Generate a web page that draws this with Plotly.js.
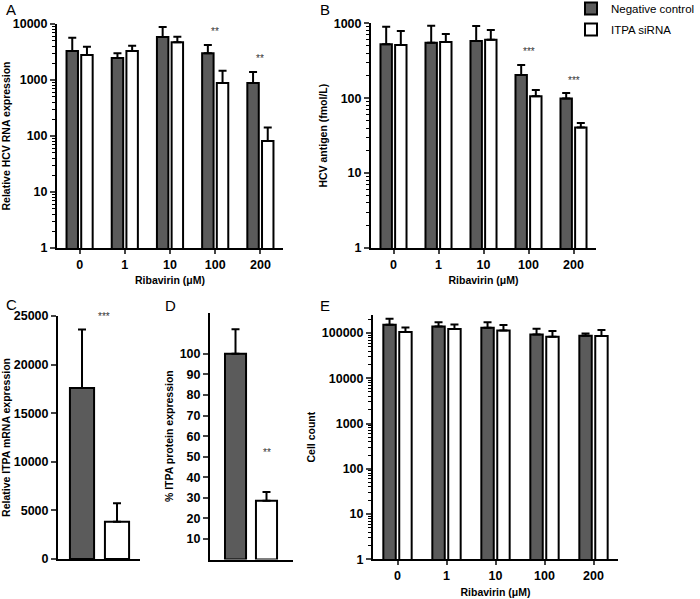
<!DOCTYPE html>
<html>
<head>
<meta charset="utf-8">
<script src="https://cdn.plot.ly/plotly-3.0.1.min.js"></script>
<style>
  html, body { margin: 0; padding: 0; background: #fff; }
  #chart { width: 700px; height: 599px; }
</style>
</head>
<body>
<div id="chart"></div>
<script>
document.addEventListener('DOMContentLoaded', () => {
    // Ribavirin doses (µM)
    const doses = ['0', '1', '10', '100', '200'];
    const seriesNames = ['Negative control', 'ITPA siRNA'];

    // A: relative HCV RNA expression
    const hcvRnaCtrl = [3300, 2470, 5860, 3000, 883];
    const hcvRnaCtrlErr = [2400, 530, 2980, 1220, 510];
    const hcvRnaSi = [2790, 3300, 4710, 883, 81.5];
    const hcvRnaSiErr = [1140, 800, 1230, 583, 60];
    const hcvRnaStars = ['', '', '', '**', '**'];

    // B: HCV antigen (fmol/L)
    const antigenCtrl = [525, 551, 581, 204, 99];
    const antigenCtrlErr = [375, 379, 339, 74, 18];
    const antigenSi = [514, 564, 605, 106, 40.5];
    const antigenSiErr = [276, 156, 210, 23, 6];
    const antigenStars = ['', '', '', '***', '***'];

    // C: relative ITPA mRNA expression
    const itpaMrna = [17600, 3840];
    const itpaMrnaErr = [6000, 1890];
    const itpaMrnaStars = '***';

    // D: % ITPA protein expression
    const itpaProtein = [100, 28.6];
    const itpaProteinErr = [12, 4.3];
    const itpaProteinStars = '**';

    // E: cell count
    const cellsCtrl = [152800, 140000, 131000, 93000, 87000];
    const cellsCtrlErr = [54200, 32000, 41000, 31000, 11000];
    const cellsSi = [105000, 122000, 114000, 83000, 86000];
    const cellsSiErr = [28000, 33000, 36000, 28000, 30000];

    // tick labels
    const logTicks = [1, 10, 100, 1000, 10000, 100000];
    const mrnaTicks = [0, 5000, 10000, 15000, 20000, 25000];
    const proteinTicks = [10, 20, 30, 40, 50, 60, 70, 80, 90, 100];

    const dark = '#5b5b5b';
    const font = 'Liberation Sans, Arial, sans-serif';
    const zeros = n => new Array(n).fill(0);
    const bold = v => '<b>' + v + '</b>';

    function errBar(arr) {
        return { type: 'data', array: arr, arrayminus: zeros(arr.length), symmetric: false,
                 color: '#000', thickness: 2, width: 4 };
    }

    function pair(xa, ya, ctrl, ctrlErr, si, siErr, legend) {
        return [
            { type: 'bar', x: doses, y: ctrl, name: seriesNames[0], xaxis: xa, yaxis: ya,
              marker: { color: dark, line: { color: '#000', width: 2 } },
              error_y: errBar(ctrlErr), showlegend: legend, legendgroup: 'ctrl' },
            { type: 'bar', x: doses, y: si, name: seriesNames[1], xaxis: xa, yaxis: ya,
              marker: { color: '#fff', line: { color: '#000', width: 2 } },
              error_y: errBar(siErr), showlegend: legend, legendgroup: 'si' }
        ];
    }

    const traces = [
        ...pair('x', 'y', hcvRnaCtrl, hcvRnaCtrlErr, hcvRnaSi, hcvRnaSiErr, false),
        ...pair('x2', 'y2', antigenCtrl, antigenCtrlErr, antigenSi, antigenSiErr, true),
        { type: 'bar', x: [0, 1], y: itpaMrna, width: 0.69, xaxis: 'x3', yaxis: 'y3', showlegend: false,
          marker: { color: [dark, '#fff'], line: { color: '#000', width: 2 } }, error_y: errBar(itpaMrnaErr) },
        { type: 'bar', x: [0, 1], y: itpaProtein, width: 0.68, xaxis: 'x4', yaxis: 'y4', showlegend: false,
          marker: { color: [dark, '#fff'], line: { color: '#000', width: 2 } }, error_y: errBar(itpaProteinErr) },
        ...pair('x5', 'y5', cellsCtrl, cellsCtrlErr, cellsSi, cellsSiErr, false)
    ];

    const tickFont = { family: font, size: 12.5, color: '#000' };
    const titleFont = { family: font, size: 10.5, color: '#000' };

    // minor ticks 2..9 within each decade
    const minorLog = [];
    for (let d = 1; d <= 100000; d *= 10) for (let m = 2; m <= 9; m++) minorLog.push(m * d);

    function xCat(domain, anchor, title) {
        return { domain: domain, anchor: anchor, type: 'category', range: [-0.5, 4.5],
                 showline: true, linewidth: 2, linecolor: '#000', ticks: 'outside', ticklen: 4, tickwidth: 2,
                 tickmode: 'array', tickvals: doses, ticktext: doses.map(bold),
                 tickfont: tickFont, showgrid: false, zeroline: false,
                 title: { text: bold(title), font: titleFont, standoff: 6 } };
    }
    function yLog(domain, anchor, range, title, standoff) {
        const vals = logTicks.filter(v => Math.log10(v) <= range[1] + 1e-6);
        return { domain: domain, anchor: anchor, type: 'log', range: range,
                 tickmode: 'array', tickvals: vals, ticktext: vals.map(v => bold(String(v))),
                 showline: true, linewidth: 2, linecolor: '#000',
                 ticks: 'outside', ticklen: 5, tickwidth: 2, tickfont: tickFont, showgrid: false,
                 minor: { ticks: 'outside', ticklen: 3.5, tickwidth: 1, tickcolor: '#000', showgrid: false,
                          tickmode: 'array', tickvals: minorLog.filter(v => Math.log10(v) <= range[1]) },
                 title: { text: bold(title), font: titleFont, standoff: standoff } };
    }
    function yLin(domain, anchor, range, vals, title) {
        return { domain: domain, anchor: anchor, range: range,
                 tickmode: 'array', tickvals: vals, ticktext: vals.map(v => bold(String(v))),
                 showline: true, linewidth: 2, linecolor: '#000', ticks: 'outside', ticklen: 5, tickwidth: 2,
                 tickfont: tickFont, showgrid: false, zeroline: false,
                 title: { text: bold(title), font: titleFont, standoff: 4 } };
    }
    function xPlain(domain, anchor, range) {
        return { domain: domain, anchor: anchor, range: range, showline: true, linewidth: 2,
                 linecolor: '#000', showticklabels: false, ticks: '', showgrid: false, zeroline: false };
    }

    const starFont = { family: font, size: 10, color: '#333' };
    const annotations = [];
    [['A', 4, 9], ['B', 318, 9], ['C', 4, 304], ['D', 163, 305], ['E', 318, 305]].forEach(p => {
        annotations.push({ text: p[0], xref: 'paper', yref: 'paper', x: p[1] / 700, y: 1 - p[2] / 599,
                           xanchor: 'left', yanchor: 'middle', showarrow: false,
                           font: { family: font, size: 15, color: '#000' } });
    });
    function stars(labels, a, b, ea, eb, xr, yr) {
        labels.forEach((s, i) => {
            if (!s) return;
            const top = Math.max(a[i] + ea[i], b[i] + eb[i]);
            annotations.push({ text: s, xref: xr, yref: yr, x: i, y: Math.log10(top),
                               yshift: 13, showarrow: false, font: starFont });
        });
    }
    stars(hcvRnaStars, hcvRnaCtrl, hcvRnaSi, hcvRnaCtrlErr, hcvRnaSiErr, 'x', 'y');
    stars(antigenStars, antigenCtrl, antigenSi, antigenCtrlErr, antigenSiErr, 'x2', 'y2');
    annotations.push({ text: itpaMrnaStars, xref: 'x3', yref: 'y3', x: 0.63, y: 25000, showarrow: false,
                       font: starFont });
    annotations.push({ text: itpaProteinStars, xref: 'x4', yref: 'y4', x: 1, y: 52, showarrow: false,
                       font: starFont });

    const layout = {
        width: 700, height: 599,
        margin: { l: 0, r: 0, t: 0, b: 0, autoexpand: false },
        paper_bgcolor: '#fff', plot_bgcolor: '#fff',
        barmode: 'group', bargap: 0.35, bargroupgap: 0.22,
        showlegend: true,
        legend: { x: 1, y: 1.01, xanchor: 'right', yanchor: 'top', bgcolor: 'rgba(0,0,0,0)',
                  font: { family: font, size: 11.5, color: '#000' }, tracegroupgap: 2 },
        xaxis: xCat([57 / 700, 283 / 700], 'y', 'Ribavirin (μM)'),
        yaxis: yLog([1 - 248 / 599, 1 - 24 / 599], 'x', [0, 4], 'Relative HCV RNA expression', 4),
        xaxis2: xCat([371 / 700, 596 / 700], 'y2', 'Ribavirin (μM)'),
        yaxis2: yLog([1 - 248 / 599, 1 - 23.3 / 599], 'x2', [0, 3], 'HCV antigen (fmol/L)', 4),
        xaxis3: xPlain([58 / 700, 140 / 700], 'y3', [-0.686, 1.657]),
        yaxis3: yLin([1 - 559 / 599, 1 - 316 / 599], 'x3', [0, 25000], mrnaTicks, 'Relative ITPA mRNA expression'),
        xaxis4: xPlain([210 / 700, 293 / 700], 'y4', [-0.823, 1.855]),
        yaxis4: yLin([1 - 559.6 / 599, 1 - 312.7 / 599], 'x4', [0, 120], proteinTicks, '% ITPA protein expression'),
        xaxis5: xCat([373 / 700, 618 / 700], 'y5', 'Ribavirin (μM)'),
        yaxis5: yLog([1 - 559.3 / 599, 1 - 315 / 599], 'x5', [0, Math.log10(250000)], 'Cell count', 4),
        annotations: annotations
    };

    Plotly.newPlot('chart', traces, layout, { staticPlot: true });
});
</script>
</body>
</html>
